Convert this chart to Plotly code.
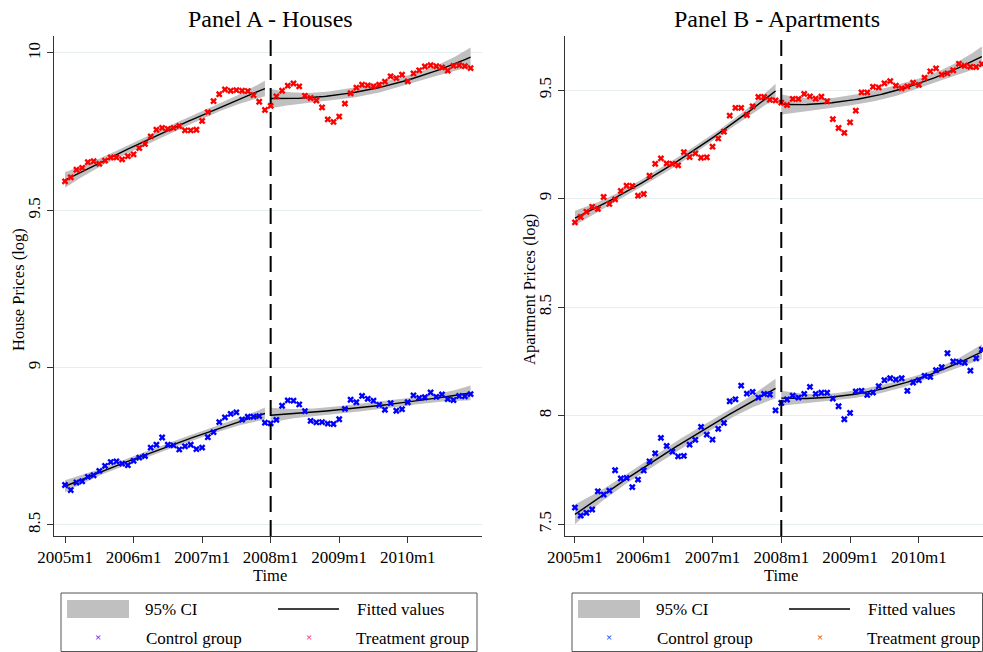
import numpy as np
import plotly.graph_objects as go

# ---------------- data (log prices, monthly 2005m1 .. 2010m12) ----------------
tick_labels = ["2005m1", "2006m1", "2007m1", "2008m1", "2009m1", "2010m1"]
tick_months = [0, 12, 24, 36, 48, 60]
months = list(range(72))
cutoff = 36  # 2008m1

houses_treatment = [
    9.592, 9.605, 9.629, 9.635, 9.653, 9.656, 9.648, 9.658, 9.668, 9.668, 9.662, 9.672,
    9.678, 9.698, 9.711, 9.735, 9.756, 9.762, 9.759, 9.762, 9.768, 9.754, 9.754, 9.756,
    9.784, 9.812, 9.847, 9.869, 9.884, 9.880, 9.882, 9.880, 9.879, 9.866, 9.845, 9.819,
    9.832, 9.862, 9.880, 9.896, 9.903, 9.894, 9.864, 9.857, 9.849, 9.827, 9.789, 9.781,
    9.798, 9.839, 9.872, 9.890, 9.899, 9.897, 9.894, 9.899, 9.909, 9.926, 9.920, 9.931,
    9.910, 9.935, 9.945, 9.957, 9.961, 9.958, 9.954, 9.944, 9.959, 9.961, 9.958, 9.952,
]
houses_control = [
    8.627, 8.611, 8.635, 8.639, 8.653, 8.658, 8.672, 8.688, 8.700, 8.702, 8.695, 8.690,
    8.704, 8.714, 8.719, 8.746, 8.755, 8.778, 8.755, 8.753, 8.740, 8.750, 8.755, 8.741,
    8.746, 8.779, 8.795, 8.827, 8.842, 8.853, 8.858, 8.835, 8.844, 8.844, 8.846, 8.825,
    8.823, 8.834, 8.879, 8.896, 8.895, 8.883, 8.862, 8.831, 8.826, 8.827, 8.822, 8.821,
    8.836, 8.869, 8.898, 8.890, 8.910, 8.901, 8.895, 8.882, 8.866, 8.887, 8.863, 8.868,
    8.890, 8.912, 8.904, 8.906, 8.921, 8.907, 8.915, 8.900, 8.897, 8.910, 8.909, 8.916,
]
apartments_treatment = [
    8.890, 8.915, 8.939, 8.962, 8.952, 9.007, 8.975, 8.996, 9.035, 9.059, 9.058, 9.013,
    9.021, 9.105, 9.160, 9.185, 9.162, 9.160, 9.153, 9.214, 9.191, 9.208, 9.188, 9.190,
    9.239, 9.277, 9.308, 9.382, 9.418, 9.418, 9.385, 9.425, 9.468, 9.468, 9.455, 9.452,
    9.442, 9.431, 9.459, 9.459, 9.482, 9.471, 9.460, 9.469, 9.448, 9.366, 9.325, 9.303,
    9.351, 9.405, 9.489, 9.489, 9.515, 9.512, 9.531, 9.541, 9.520, 9.508, 9.517, 9.534,
    9.524, 9.557, 9.586, 9.600, 9.571, 9.577, 9.591, 9.621, 9.612, 9.607, 9.606, 9.620,
]
apartments_control = [
    7.576, 7.539, 7.552, 7.567, 7.651, 7.636, 7.654, 7.748, 7.710, 7.713, 7.670, 7.705,
    7.747, 7.789, 7.826, 7.897, 7.860, 7.834, 7.812, 7.814, 7.866, 7.888, 7.948, 7.912,
    7.889, 7.939, 7.966, 8.066, 8.075, 8.138, 8.101, 8.109, 8.083, 8.100, 8.097, 8.024,
    8.058, 8.074, 8.092, 8.083, 8.100, 8.132, 8.100, 8.105, 8.105, 8.078, 8.043, 7.983,
    8.012, 8.111, 8.114, 8.095, 8.106, 8.135, 8.163, 8.172, 8.166, 8.172, 8.114, 8.152,
    8.163, 8.183, 8.178, 8.209, 8.223, 8.287, 8.249, 8.247, 8.243, 8.207, 8.264, 8.304,
]

FONT = "Liberation Serif, Times New Roman, serif"
RED = "#ff0000"
BLUE = "#0000ff"
CI_GREY = "#c0c0c0"
GRID = "#e6eef0"


def qfitci(t, y, n_grid=80, tcrit=2.035):
    """Quadratic fit with 95% CI of the prediction (like Stata's qfitci)."""
    t = np.asarray(t, float)
    y = np.asarray(y, float)
    X = np.column_stack([np.ones_like(t), t, t ** 2])
    beta, *_ = np.linalg.lstsq(X, y, rcond=None)
    resid = y - X @ beta
    n, k = X.shape
    s2 = resid @ resid / (n - k)
    cov = s2 * np.linalg.inv(X.T @ X)
    tg = np.linspace(t.min(), t.max(), n_grid)
    Xg = np.column_stack([np.ones_like(tg), tg, tg ** 2])
    fit = Xg @ beta
    se = np.sqrt(np.einsum("ij,jk,ik->i", Xg, cov, Xg))
    return tg, fit, fit - tcrit * se, fit + tcrit * se


fig = go.Figure()

panels = [
    dict(xa="x", ya="y", treat=houses_treatment, ctrl=houses_control),
    dict(xa="x2", ya="y2", treat=apartments_treatment, ctrl=apartments_control),
]

m = np.array(months)
for p in panels:
    for series in (p["treat"], p["ctrl"]):
        s = np.array(series)
        for mask in (m < cutoff, m >= cutoff):
            tg, fit, lo, hi = qfitci(m[mask], s[mask])
            fig.add_trace(go.Scatter(
                x=np.concatenate([tg, tg[::-1]]), y=np.concatenate([hi, lo[::-1]]),
                fill="toself", fillcolor=CI_GREY, line=dict(width=0),
                mode="lines", showlegend=False, hoverinfo="skip",
                xaxis=p["xa"], yaxis=p["ya"]))
            fig.add_trace(go.Scatter(
                x=tg, y=fit, mode="lines", line=dict(color="black", width=1.4),
                showlegend=False, hoverinfo="skip", xaxis=p["xa"], yaxis=p["ya"]))
    fig.add_trace(go.Scatter(
        x=months, y=p["ctrl"], mode="markers",
        marker=dict(symbol="x", size=6, color=BLUE, line=dict(width=0)),
        showlegend=False, xaxis=p["xa"], yaxis=p["ya"]))
    fig.add_trace(go.Scatter(
        x=months, y=p["treat"], mode="markers",
        marker=dict(symbol="x", size=6, color=RED, line=dict(width=0)),
        showlegend=False, xaxis=p["xa"], yaxis=p["ya"]))

W, H = 983, 652
ydom = [(H - 536) / H, (H - 36) / H]

common_x = dict(
    tickmode="array", tickvals=tick_months, ticktext=tick_labels,
    ticks="outside", ticklen=6, tickcolor="#333333", showline=True, linecolor="#333333",
    linewidth=1, showgrid=False, zeroline=False, automargin=False,
    tickfont=dict(family=FONT, size=17, color="black"))
common_y = dict(
    ticks="outside", ticklen=6, tickcolor="#333333", showline=True, linecolor="#333333",
    linewidth=1, showgrid=True, gridcolor=GRID, gridwidth=1, zeroline=False,
    automargin=False, tickangle=-90,
    tickfont=dict(family=FONT, size=17, color="black"), domain=ydom)

fig.update_layout(
    width=W, height=H, margin=dict(l=0, r=0, t=0, b=0, autoexpand=False),
    paper_bgcolor="white", plot_bgcolor="white", showlegend=False,
    font=dict(family=FONT, color="black"),
    xaxis=dict(common_x, domain=[54 / W, 482 / W], range=[-1.93, 73.0], anchor="y"),
    yaxis=dict(common_y, range=[8.465, 10.054], tickvals=[8.5, 9, 9.5, 10],
               ticktext=["8.5", "9", "9.5", "10"], anchor="x"),
    xaxis2=dict(common_x, domain=[565 / W, 1.0], range=[-1.74, 71.2], anchor="y2"),
    yaxis2=dict(common_y, range=[7.445, 9.749], tickvals=[7.5, 8, 8.5, 9, 9.5],
                ticktext=["7.5", "8", "8.5", "9", "9.5"], anchor="x2"),
)

# vertical dashed lines at 2008m1
for xa, ya in (("x", "y"), ("x2", "y2")):
    fig.add_shape(type="line", xref=xa, yref=f"{ya} domain", x0=cutoff, x1=cutoff,
                  y0=0, y1=1, line=dict(color="black", width=2, dash="16px,8px"))


def ann(text, x, y, size, angle=0, xanchor="center", yanchor="middle", color="black"):
    fig.add_annotation(text=text, x=x / W, y=1 - y / H, xref="paper", yref="paper",
                       showarrow=False, textangle=angle, xanchor=xanchor, yanchor=yanchor,
                       font=dict(family=FONT, size=size, color=color))


ann("Panel A - Houses", 270, 19, 24)
ann("Panel B - Apartments", 777, 19, 24)
ann("Time", 270, 575, 16.5)
ann("Time", 781, 575, 16.5)
ann("House Prices (log)", 18, 290, 16.5, angle=-90)
ann("Apartment Prices (log)", 529, 290, 16.5, angle=-90)

# legends (drawn manually, one box per panel)
for off in (0, 511):
    fig.add_shape(type="rect", xref="paper", yref="paper",
                  x0=(61 + off) / W, x1=min(477 + off, W - 0.5) / W,
                  y0=1 - 651.5 / H, y1=1 - 593 / H,
                  line=dict(color="#555555", width=1), fillcolor="rgba(0,0,0,0)")
    fig.add_shape(type="rect", xref="paper", yref="paper",
                  x0=(67 + off) / W, x1=(129 + off) / W, y0=1 - 618 / H, y1=1 - 600 / H,
                  line=dict(width=0), fillcolor=CI_GREY)
    fig.add_shape(type="line", xref="paper", yref="paper",
                  x0=(278 + off) / W, x1=(339 + off) / W, y0=1 - 609 / H, y1=1 - 609 / H,
                  line=dict(color="black", width=1.4))
    ann("95% CI", 143 + off, 609, 17, xanchor="left")
    ann("Fitted values", 355 + off, 609, 17, xanchor="left")
    ann("Control group", 144 + off, 638, 17, xanchor="left")
    ann("Treatment group", 354 + off, 638, 17, xanchor="left")
    ann("×", 98 + off, 637, 11, color=BLUE)
    ann("×", 309 + off, 637, 11, color=RED)

fig.write_html("out.html", config={"displayModeBar": False},
               post_script="document.body.style.margin='0px';")
